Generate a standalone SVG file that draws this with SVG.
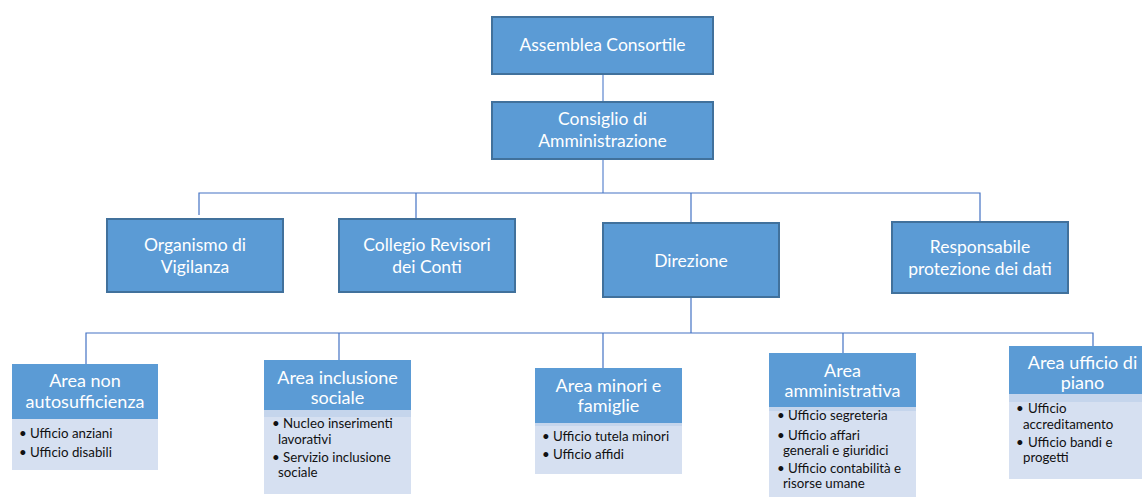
<svg xmlns="http://www.w3.org/2000/svg" width="1142" height="498" viewBox="0 0 1142 498">
<style>
.top{fill:#5b9bd5;stroke:#41719c;stroke-width:2}
.hdr{fill:#5b9bd5}
.band{fill:#c5d5ec}
.body{fill:#d6e0f1}
.tt{font-family:Lato,"Liberation Sans",sans-serif;font-size:17.5px;fill:#ffffff;text-anchor:middle}
.ht{font-family:Lato,"Liberation Sans",sans-serif;font-size:18px;fill:#ffffff;text-anchor:middle}
.bt{font-family:Lato,"Liberation Sans",sans-serif;font-size:13.3px;fill:#111111}
.ln{stroke:#4472c4;stroke-width:1.2;fill:none}
.ln2{stroke:#9db6e2;stroke-width:2;fill:none}
</style>
<rect width="1142" height="498" fill="#ffffff"/>
<g id="connectors">
<line class="ln2" x1="603" y1="74" x2="603" y2="102"/>
<line class="ln2" x1="603" y1="159" x2="603" y2="193"/>
<polyline class="ln" points="199,215 199,193 980,193 980,222"/>
<line class="ln" x1="416" y1="193" x2="416" y2="219"/>
<line class="ln" x1="691" y1="193" x2="691" y2="223"/>
<line class="ln" x1="691" y1="297" x2="691" y2="333"/>
<polyline class="ln" points="86,364 86,333 1093,333 1093,346"/>
<line class="ln" x1="339" y1="333" x2="339" y2="360"/>
<line class="ln" x1="603" y1="333" x2="603" y2="368"/>
<line class="ln" x1="843" y1="333" x2="843" y2="353"/>
</g>
<g id="assemblea">
<rect class="top" x="492" y="17" width="221" height="57"/>
<text class="tt" x="602.5" y="51">Assemblea Consortile</text>
</g>
<g id="consiglio">
<rect class="top" x="492" y="102" width="221" height="57"/>
<text class="tt" x="602.5" y="125">Consiglio di</text>
<text class="tt" x="602.5" y="147">Amministrazione</text>
</g>
<g id="organismo">
<rect class="top" x="107" y="219" width="176" height="73"/>
<text class="tt" x="195" y="251">Organismo di</text>
<text class="tt" x="195" y="273">Vigilanza</text>
</g>
<g id="collegio">
<rect class="top" x="339" y="219" width="176" height="73"/>
<text class="tt" x="427" y="251">Collegio Revisori</text>
<text class="tt" x="427" y="273">dei Conti</text>
</g>
<g id="direzione">
<rect class="top" x="603" y="223" width="176" height="74"/>
<text class="tt" x="691" y="267">Direzione</text>
</g>
<g id="responsabile">
<rect class="top" x="892" y="222" width="176" height="71"/>
<text class="tt" x="980" y="253">Responsabile</text>
<text class="tt" x="980" y="275">protezione dei dati</text>
</g>
<g id="area-non-autosufficienza">
<rect class="body" x="12" y="419" width="146" height="51"/>
<rect class="hdr" x="12" y="364" width="146" height="55"/>
<text class="ht" x="85" y="387">Area non</text>
<text class="ht" x="85" y="408">autosufficienza</text>
<text class="bt" x="19" y="438">•</text><text class="bt" x="30" y="438">Ufficio anziani</text>
<text class="bt" x="19" y="457">•</text><text class="bt" x="30" y="457">Ufficio disabili</text>
</g>
<g id="area-inclusione-sociale">
<rect class="body" x="264" y="410" width="147" height="84"/>
<rect class="band" x="264" y="410" width="147" height="7"/>
<rect class="hdr" x="264" y="360" width="147" height="50"/>
<text class="ht" x="337.5" y="384">Area inclusione</text>
<text class="ht" x="337.5" y="404">sociale</text>
<text class="bt" x="272" y="428">•</text><text class="bt" x="283" y="428">Nucleo inserimenti</text>
<text class="bt" x="278" y="444">lavorativi</text>
<text class="bt" x="272" y="462">•</text><text class="bt" x="283" y="462">Servizio inclusione</text>
<text class="bt" x="278" y="477">sociale</text>
</g>
<g id="area-minori-famiglie">
<rect class="body" x="535" y="423" width="147" height="51"/>
<rect class="band" x="535" y="423" width="147" height="3"/>
<rect class="hdr" x="535" y="368" width="147" height="55"/>
<text class="ht" x="608.5" y="392">Area minori e</text>
<text class="ht" x="608.5" y="412">famiglie</text>
<text class="bt" x="542" y="441">•</text><text class="bt" x="553" y="441">Ufficio tutela minori</text>
<text class="bt" x="542" y="459">•</text><text class="bt" x="553" y="459">Ufficio affidi</text>
</g>
<g id="area-amministrativa">
<rect class="body" x="769" y="407" width="147" height="90"/>
<rect class="band" x="769" y="407" width="147" height="4"/>
<rect class="hdr" x="769" y="353" width="147" height="54"/>
<text class="ht" x="842.5" y="377">Area</text>
<text class="ht" x="842.5" y="397">amministrativa</text>
<text class="bt" x="777" y="420">•</text><text class="bt" x="788" y="420">Ufficio segreteria</text>
<text class="bt" x="777" y="440">•</text><text class="bt" x="788" y="440">Ufficio affari</text>
<text class="bt" x="783" y="455">generali e giuridici</text>
<text class="bt" x="777" y="473">•</text><text class="bt" x="788" y="473">Ufficio contabilità e</text>
<text class="bt" x="783" y="488">risorse umane</text>
</g>
<g id="area-ufficio-piano">
<rect class="body" x="1009" y="394" width="147" height="85"/>
<rect class="band" x="1009" y="394" width="147" height="8"/>
<rect class="hdr" x="1009" y="346" width="147" height="48"/>
<text class="ht" x="1082.5" y="369">Area ufficio di</text>
<text class="ht" x="1082.5" y="389">piano</text>
<text class="bt" x="1016" y="413">•</text><text class="bt" x="1028" y="413">Ufficio</text>
<text class="bt" x="1023" y="429">accreditamento</text>
<text class="bt" x="1016" y="447">•</text><text class="bt" x="1028" y="447">Ufficio bandi e</text>
<text class="bt" x="1023" y="462">progetti</text>
</g>
</svg>
